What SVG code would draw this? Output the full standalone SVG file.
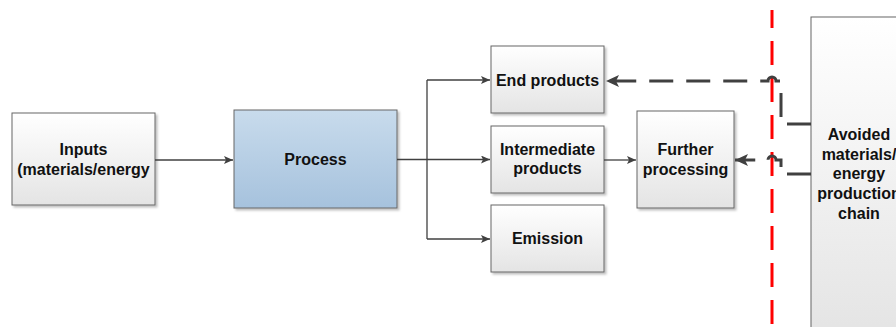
<svg xmlns="http://www.w3.org/2000/svg" width="896" height="327" viewBox="0 0 896 327">
  <defs>
    <linearGradient id="boxFill" x1="0" y1="0" x2="0" y2="1">
      <stop offset="0" stop-color="#ffffff"/>
      <stop offset="1" stop-color="#e4e4e4"/>
    </linearGradient>
    <linearGradient id="procFill" x1="0" y1="0" x2="0" y2="1">
      <stop offset="0" stop-color="#c8dbec"/>
      <stop offset="1" stop-color="#a6c2dd"/>
    </linearGradient>
    <filter id="shadow" x="-10%" y="-10%" width="130%" height="130%">
      <feDropShadow dx="2" dy="2" stdDeviation="0.8" flood-color="#000" flood-opacity="0.25"/>
    </filter>
    <marker id="arrowSmall" markerUnits="userSpaceOnUse" markerWidth="10" markerHeight="8" refX="9" refY="4" orient="auto">
      <path d="M0,0 L9,4 L0,8 L2,4 z" fill="#404040"/>
    </marker>
    <marker id="arrowBig" markerUnits="userSpaceOnUse" markerWidth="14" markerHeight="12" refX="13" refY="6" orient="auto">
      <path d="M0,0 L13,6 L0,12 L3,6 z" fill="#404040"/>
    </marker>
  </defs>
  <style>
    .box { fill: url(#boxFill); stroke: #666666; stroke-width: 1; filter: url(#shadow); }
    .proc { fill: url(#procFill); stroke: #666666; stroke-width: 1; filter: url(#shadow); }
    .lbl { font-family: "Liberation Sans", Arial, sans-serif; font-weight: bold; font-size: 16px; fill: #111111; text-anchor: middle; }
    .solid { fill: none; stroke: #404040; stroke-width: 1.3; }
    .dash { fill: none; stroke: #404040; stroke-width: 3; stroke-dasharray: 24 13; }
    .border { fill: none; stroke: #ff0000; stroke-width: 3; stroke-dasharray: 24 13; stroke-dashoffset: 6; }
  </style>

  <!-- system boundary -->
  <line class="border" x1="772" y1="10" x2="772" y2="327"/>

  <g id="inputs">
    <rect class="box" x="12" y="113" width="143" height="92"/>
    <text class="lbl" x="83.5" y="155">Inputs</text>
    <text class="lbl" x="83.5" y="175">(materials/energy</text>
  </g>

  <g id="process">
    <rect class="proc" x="234" y="110" width="163" height="98"/>
    <text class="lbl" x="315.5" y="165">Process</text>
  </g>

  <g id="end-products">
    <rect class="box" x="491" y="46" width="113" height="67"/>
    <text class="lbl" x="547.5" y="86">End products</text>
  </g>

  <g id="intermediate-products">
    <rect class="box" x="491" y="126" width="113" height="67"/>
    <text class="lbl" x="547.5" y="155">Intermediate</text>
    <text class="lbl" x="547.5" y="174">products</text>
  </g>

  <g id="emission">
    <rect class="box" x="491" y="205" width="113" height="67"/>
    <text class="lbl" x="547.5" y="244">Emission</text>
  </g>

  <g id="further-processing">
    <rect class="box" x="637" y="111" width="97" height="97"/>
    <text class="lbl" x="685.5" y="155">Further</text>
    <text class="lbl" x="685.5" y="175">processing</text>
  </g>

  <g id="avoided-chain">
    <rect class="box" x="811" y="17" width="96" height="320"/>
    <text class="lbl" x="859" y="140">Avoided</text>
    <text class="lbl" x="859" y="160">materials/</text>
    <text class="lbl" x="859" y="179">energy</text>
    <text class="lbl" x="859" y="199">production</text>
    <text class="lbl" x="859" y="219">chain</text>
  </g>

  <g id="connectors">
    <path class="solid" d="M155,160 H233" marker-end="url(#arrowSmall)"/>
    <path class="solid" d="M397,159.5 H490" marker-end="url(#arrowSmall)"/>
    <path class="solid" d="M427,80 V239"/>
    <path class="solid" d="M427,80 H490" marker-end="url(#arrowSmall)"/>
    <path class="solid" d="M427,239 H490" marker-end="url(#arrowSmall)"/>
    <path class="solid" d="M604,160 H636" marker-end="url(#arrowSmall)"/>
    <path class="dash" d="M811,124 H781 V81 H776 A4,4 0 0 0 768,81 H606" marker-end="url(#arrowBig)"/>
    <path class="dash" d="M811,174 H781 V160 H776 A4,4 0 0 0 768,160 H735" marker-end="url(#arrowBig)"/>
  </g>
</svg>
